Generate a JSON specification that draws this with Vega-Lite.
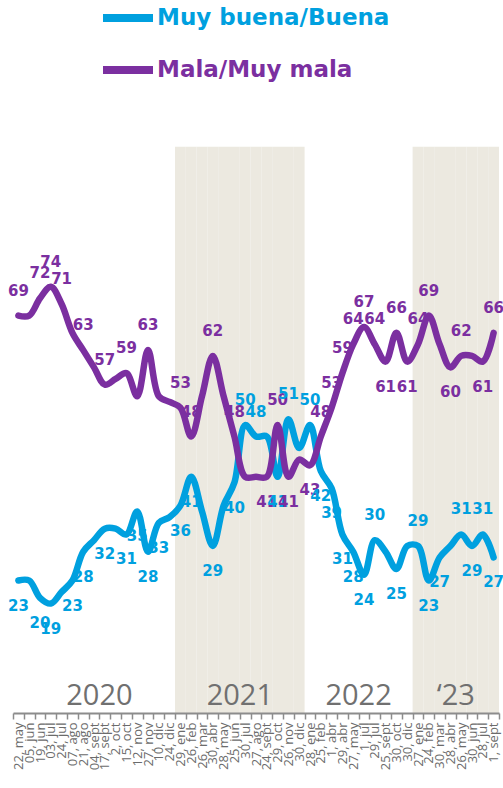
{
  "$schema": "https://vega.github.io/schema/vega-lite/v6.json",
  "width": 486,
  "height": 576,
  "autosize": {"type": "none"},
  "padding": {"left": 13, "top": 137, "right": 4, "bottom": 75},
  "background": "white",
  "config": {"view": {"stroke": null}},
  "data": {"values": [
    {"c":"2020-05-22|22, may","anio":2020,"s":"Muy buena/Buena","v":23,"e":23},
    {"c":"2020-05-22|22, may","anio":2020,"s":"Mala/Muy mala","v":69,"e":69},
    {"c":"2020-06-05|05, jun","anio":2020,"s":"Muy buena/Buena","v":23,"e":null},
    {"c":"2020-06-05|05, jun","anio":2020,"s":"Mala/Muy mala","v":69,"e":null},
    {"c":"2020-06-19|19, jun","anio":2020,"s":"Muy buena/Buena","v":20,"e":20},
    {"c":"2020-06-19|19, jun","anio":2020,"s":"Mala/Muy mala","v":72,"e":72},
    {"c":"2020-07-03|03, jul","anio":2020,"s":"Muy buena/Buena","v":19,"e":19},
    {"c":"2020-07-03|03, jul","anio":2020,"s":"Mala/Muy mala","v":74,"e":74},
    {"c":"2020-07-24|24, jul","anio":2020,"s":"Muy buena/Buena","v":21,"e":null},
    {"c":"2020-07-24|24, jul","anio":2020,"s":"Mala/Muy mala","v":71,"e":71},
    {"c":"2020-08-07|07, ago","anio":2020,"s":"Muy buena/Buena","v":23,"e":23},
    {"c":"2020-08-07|07, ago","anio":2020,"s":"Mala/Muy mala","v":66,"e":null},
    {"c":"2020-08-21|21, ago","anio":2020,"s":"Muy buena/Buena","v":28,"e":28},
    {"c":"2020-08-21|21, ago","anio":2020,"s":"Mala/Muy mala","v":63,"e":63},
    {"c":"2020-09-04|04, sept","anio":2020,"s":"Muy buena/Buena","v":30,"e":null},
    {"c":"2020-09-04|04, sept","anio":2020,"s":"Mala/Muy mala","v":60,"e":null},
    {"c":"2020-09-17|17, sept","anio":2020,"s":"Muy buena/Buena","v":32,"e":32},
    {"c":"2020-09-17|17, sept","anio":2020,"s":"Mala/Muy mala","v":57,"e":57},
    {"c":"2020-10-02|2, oct","anio":2020,"s":"Muy buena/Buena","v":32,"e":null},
    {"c":"2020-10-02|2, oct","anio":2020,"s":"Mala/Muy mala","v":58,"e":null},
    {"c":"2020-10-15|15, oct","anio":2020,"s":"Muy buena/Buena","v":31,"e":31},
    {"c":"2020-10-15|15, oct","anio":2020,"s":"Mala/Muy mala","v":59,"e":59},
    {"c":"2020-11-12|12, nov","anio":2020,"s":"Muy buena/Buena","v":35,"e":35},
    {"c":"2020-11-12|12, nov","anio":2020,"s":"Mala/Muy mala","v":55,"e":null},
    {"c":"2020-11-27|27, nov","anio":2020,"s":"Muy buena/Buena","v":28,"e":28},
    {"c":"2020-11-27|27, nov","anio":2020,"s":"Mala/Muy mala","v":63,"e":63},
    {"c":"2020-12-10|10, dic","anio":2020,"s":"Muy buena/Buena","v":33,"e":33},
    {"c":"2020-12-10|10, dic","anio":2020,"s":"Mala/Muy mala","v":55,"e":null},
    {"c":"2020-12-24|24, dic","anio":2020,"s":"Muy buena/Buena","v":34,"e":null},
    {"c":"2020-12-24|24, dic","anio":2020,"s":"Mala/Muy mala","v":54,"e":null},
    {"c":"2021-01-29|29, ene","anio":2021,"s":"Muy buena/Buena","v":36,"e":36},
    {"c":"2021-01-29|29, ene","anio":2021,"s":"Mala/Muy mala","v":53,"e":53},
    {"c":"2021-02-26|26, feb","anio":2021,"s":"Muy buena/Buena","v":41,"e":41},
    {"c":"2021-02-26|26, feb","anio":2021,"s":"Mala/Muy mala","v":48,"e":48},
    {"c":"2021-03-26|26, mar","anio":2021,"s":"Muy buena/Buena","v":35,"e":null},
    {"c":"2021-03-26|26, mar","anio":2021,"s":"Mala/Muy mala","v":55,"e":null},
    {"c":"2021-04-30|30, abr","anio":2021,"s":"Muy buena/Buena","v":29,"e":29},
    {"c":"2021-04-30|30, abr","anio":2021,"s":"Mala/Muy mala","v":62,"e":62},
    {"c":"2021-05-28|28, may","anio":2021,"s":"Muy buena/Buena","v":36,"e":null},
    {"c":"2021-05-28|28, may","anio":2021,"s":"Mala/Muy mala","v":55,"e":null},
    {"c":"2021-06-25|25, jun","anio":2021,"s":"Muy buena/Buena","v":40,"e":40},
    {"c":"2021-06-25|25, jun","anio":2021,"s":"Mala/Muy mala","v":48,"e":48},
    {"c":"2021-07-30|30, jul","anio":2021,"s":"Muy buena/Buena","v":50,"e":50},
    {"c":"2021-07-30|30, jul","anio":2021,"s":"Mala/Muy mala","v":41,"e":null},
    {"c":"2021-08-27|27, ago","anio":2021,"s":"Muy buena/Buena","v":48,"e":48},
    {"c":"2021-08-27|27, ago","anio":2021,"s":"Mala/Muy mala","v":41,"e":null},
    {"c":"2021-09-24|24, sept","anio":2021,"s":"Muy buena/Buena","v":48,"e":null},
    {"c":"2021-09-24|24, sept","anio":2021,"s":"Mala/Muy mala","v":41,"e":41},
    {"c":"2021-10-29|29, oct","anio":2021,"s":"Muy buena/Buena","v":41,"e":41},
    {"c":"2021-10-29|29, oct","anio":2021,"s":"Mala/Muy mala","v":50,"e":50},
    {"c":"2021-11-26|26, nov","anio":2021,"s":"Muy buena/Buena","v":51,"e":51},
    {"c":"2021-11-26|26, nov","anio":2021,"s":"Mala/Muy mala","v":41,"e":41},
    {"c":"2021-12-30|30, dic","anio":2021,"s":"Muy buena/Buena","v":46,"e":null},
    {"c":"2021-12-30|30, dic","anio":2021,"s":"Mala/Muy mala","v":44,"e":null},
    {"c":"2022-01-28|28, ene","anio":2022,"s":"Muy buena/Buena","v":50,"e":50},
    {"c":"2022-01-28|28, ene","anio":2022,"s":"Mala/Muy mala","v":43,"e":43},
    {"c":"2022-02-25|25, feb","anio":2022,"s":"Muy buena/Buena","v":42,"e":42},
    {"c":"2022-02-25|25, feb","anio":2022,"s":"Mala/Muy mala","v":48,"e":48},
    {"c":"2022-04-01|1, abr","anio":2022,"s":"Muy buena/Buena","v":39,"e":39},
    {"c":"2022-04-01|1, abr","anio":2022,"s":"Mala/Muy mala","v":53,"e":53},
    {"c":"2022-04-29|29, abr","anio":2022,"s":"Muy buena/Buena","v":31,"e":31},
    {"c":"2022-04-29|29, abr","anio":2022,"s":"Mala/Muy mala","v":59,"e":59},
    {"c":"2022-05-27|27, may","anio":2022,"s":"Muy buena/Buena","v":28,"e":28},
    {"c":"2022-05-27|27, may","anio":2022,"s":"Mala/Muy mala","v":64,"e":64},
    {"c":"2022-07-01|1, jul","anio":2022,"s":"Muy buena/Buena","v":24,"e":24},
    {"c":"2022-07-01|1, jul","anio":2022,"s":"Mala/Muy mala","v":67,"e":67},
    {"c":"2022-07-29|29, jul","anio":2022,"s":"Muy buena/Buena","v":30,"e":30},
    {"c":"2022-07-29|29, jul","anio":2022,"s":"Mala/Muy mala","v":64,"e":64},
    {"c":"2022-09-25|25, sept","anio":2022,"s":"Muy buena/Buena","v":28,"e":null},
    {"c":"2022-09-25|25, sept","anio":2022,"s":"Mala/Muy mala","v":61,"e":61},
    {"c":"2022-10-30|30, oct","anio":2022,"s":"Muy buena/Buena","v":25,"e":25},
    {"c":"2022-10-30|30, oct","anio":2022,"s":"Mala/Muy mala","v":66,"e":66},
    {"c":"2022-12-30|30, dic","anio":2022,"s":"Muy buena/Buena","v":29,"e":null},
    {"c":"2022-12-30|30, dic","anio":2022,"s":"Mala/Muy mala","v":61,"e":61},
    {"c":"2023-01-27|27, ene","anio":2023,"s":"Muy buena/Buena","v":29,"e":29},
    {"c":"2023-01-27|27, ene","anio":2023,"s":"Mala/Muy mala","v":64,"e":64},
    {"c":"2023-02-24|24, feb","anio":2023,"s":"Muy buena/Buena","v":23,"e":23},
    {"c":"2023-02-24|24, feb","anio":2023,"s":"Mala/Muy mala","v":69,"e":69},
    {"c":"2023-03-30|30, mar","anio":2023,"s":"Muy buena/Buena","v":27,"e":27},
    {"c":"2023-03-30|30, mar","anio":2023,"s":"Mala/Muy mala","v":64,"e":null},
    {"c":"2023-04-28|28, abr","anio":2023,"s":"Muy buena/Buena","v":29,"e":null},
    {"c":"2023-04-28|28, abr","anio":2023,"s":"Mala/Muy mala","v":60,"e":60},
    {"c":"2023-05-26|26, may","anio":2023,"s":"Muy buena/Buena","v":31,"e":31},
    {"c":"2023-05-26|26, may","anio":2023,"s":"Mala/Muy mala","v":62,"e":62},
    {"c":"2023-06-30|30, jun","anio":2023,"s":"Muy buena/Buena","v":29,"e":29},
    {"c":"2023-06-30|30, jun","anio":2023,"s":"Mala/Muy mala","v":62,"e":null},
    {"c":"2023-07-28|28, jul","anio":2023,"s":"Muy buena/Buena","v":31,"e":31},
    {"c":"2023-07-28|28, jul","anio":2023,"s":"Mala/Muy mala","v":61,"e":61},
    {"c":"2023-09-01|1, sept","anio":2023,"s":"Muy buena/Buena","v":27,"e":27},
    {"c":"2023-09-01|1, sept","anio":2023,"s":"Mala/Muy mala","v":66,"e":66}
  ]},
  "encoding": {
    "x": {
      "field": "c",
      "type": "nominal",
      "scale": {"type": "band", "paddingInner": 0, "paddingOuter": 0},
      "axis": {
        "title": null,
        "labelExpr": "split(datum.value, '|')[1]",
        "labelAngle": -90,
        "labelFont": "Open Sans",
        "labelFontSize": 13,
        "labelColor": "#6b6b6b",
        "labelPadding": 3,
        "labelOverlap": false,
        "labelBound": false,
        "domainColor": "#8c8c8c",
        "domainWidth": 2,
        "tickColor": "#8c8c8c",
        "tickWidth": 1.5,
        "tickSize": 6,
        "tickBand": "extent",
        "grid": false
      }
    }
  },
  "layer": [
    {
      "transform": [{"filter": "datum.s == 'Muy buena/Buena' && (datum.anio == 2021 || datum.anio == 2023)"}],
      "mark": {"type": "rect", "color": "#ECE9E0"},
      "encoding": {
        "y": {"datum": 0, "type": "quantitative", "scale": {"domain": [0, 100], "nice": false, "zero": true}, "axis": null},
        "y2": {"datum": 98.3}
      }
    },
    {
      "transform": [
        {"filter": "datum.s == 'Muy buena/Buena' && indexof(['2020-09-17|17, sept','2021-07-30|30, jul','2022-07-01|1, jul','2023-05-26|26, may'], datum.c) >= 0"},
        {"calculate": "datum.anio == 2023 ? '‘23' : toString(datum.anio)", "as": "t"}
      ],
      "mark": {"type": "text", "font": "Open Sans", "fontSize": 29, "color": "#707070", "baseline": "middle", "align": "center"},
      "encoding": {
        "x": {"field": "c", "type": "nominal", "bandPosition": 0, "axis": {"title": null}},
        "y": {"datum": 3, "type": "quantitative", "axis": null},
        "text": {"field": "t"}
      }
    },
    {
      "mark": {"type": "line", "interpolate": "catmull-rom", "strokeWidth": 6.5, "strokeCap": "round", "strokeJoin": "round"},
      "encoding": {
        "y": {"field": "v", "type": "quantitative", "axis": null},
        "color": {
          "field": "s",
          "type": "nominal",
          "scale": {"domain": ["Muy buena/Buena", "Mala/Muy mala"], "range": ["#00A0DF", "#7B2FA0"]},
          "legend": {
            "title": null,
            "orient": "none",
            "legendX": 86,
            "legendY": -148,
            "direction": "vertical",
            "symbolType": "stroke",
            "symbolSize": 2500,
            "symbolStrokeWidth": 8,
            "labelFont": "DejaVu Sans",
            "labelFontSize": 23,
            "labelFontWeight": "bold",
            "labelOffset": 0,
            "labelLimit": 0,
            "labelColor": {"expr": "datum.value == 'Muy buena/Buena' ? '#00A0DF' : '#7B2FA0'"},
            "rowPadding": 7
          }
        }
      }
    },
    {
      "transform": [
        {"window": [{"op": "lag", "field": "v", "as": "pv"}, {"op": "lead", "field": "v", "as": "nv"}], "groupby": ["s"], "sort": [{"field": "c"}]},
        {"joinaggregate": [{"op": "max", "field": "v", "as": "vmax"}], "groupby": ["c"]},
        {"filter": "datum.e != null"},
        {"calculate": "datum.anio >= 2022 ? (((datum.pv == null || datum.v >= datum.pv) && (datum.nv == null || datum.v >= datum.nv)) ? 1 : (((datum.pv == null || datum.v < datum.pv) && (datum.nv == null || datum.v < datum.nv)) ? 0 : (datum.v == datum.vmax ? 1 : 0))) : (datum.v == datum.vmax ? 1 : 0)", "as": "arriba"}
      ],
      "encoding": {
        "y": {"field": "v", "type": "quantitative", "axis": null},
        "text": {"field": "e"},
        "color": {"condition": {"test": "datum.s == 'Muy buena/Buena'", "value": "#00A0DF"}, "value": "#7B2FA0"}
      },
      "layer": [
        {
          "transform": [{"filter": "datum.arriba == 1"}],
          "mark": {"type": "text", "font": "DejaVu Sans", "fontWeight": "bold", "fontSize": 15, "baseline": "middle", "dy": -25}
        },
        {
          "transform": [{"filter": "datum.arriba == 0"}],
          "mark": {"type": "text", "font": "DejaVu Sans", "fontWeight": "bold", "fontSize": 15, "baseline": "middle", "dy": 25}
        }
      ]
    }
  ]
}
